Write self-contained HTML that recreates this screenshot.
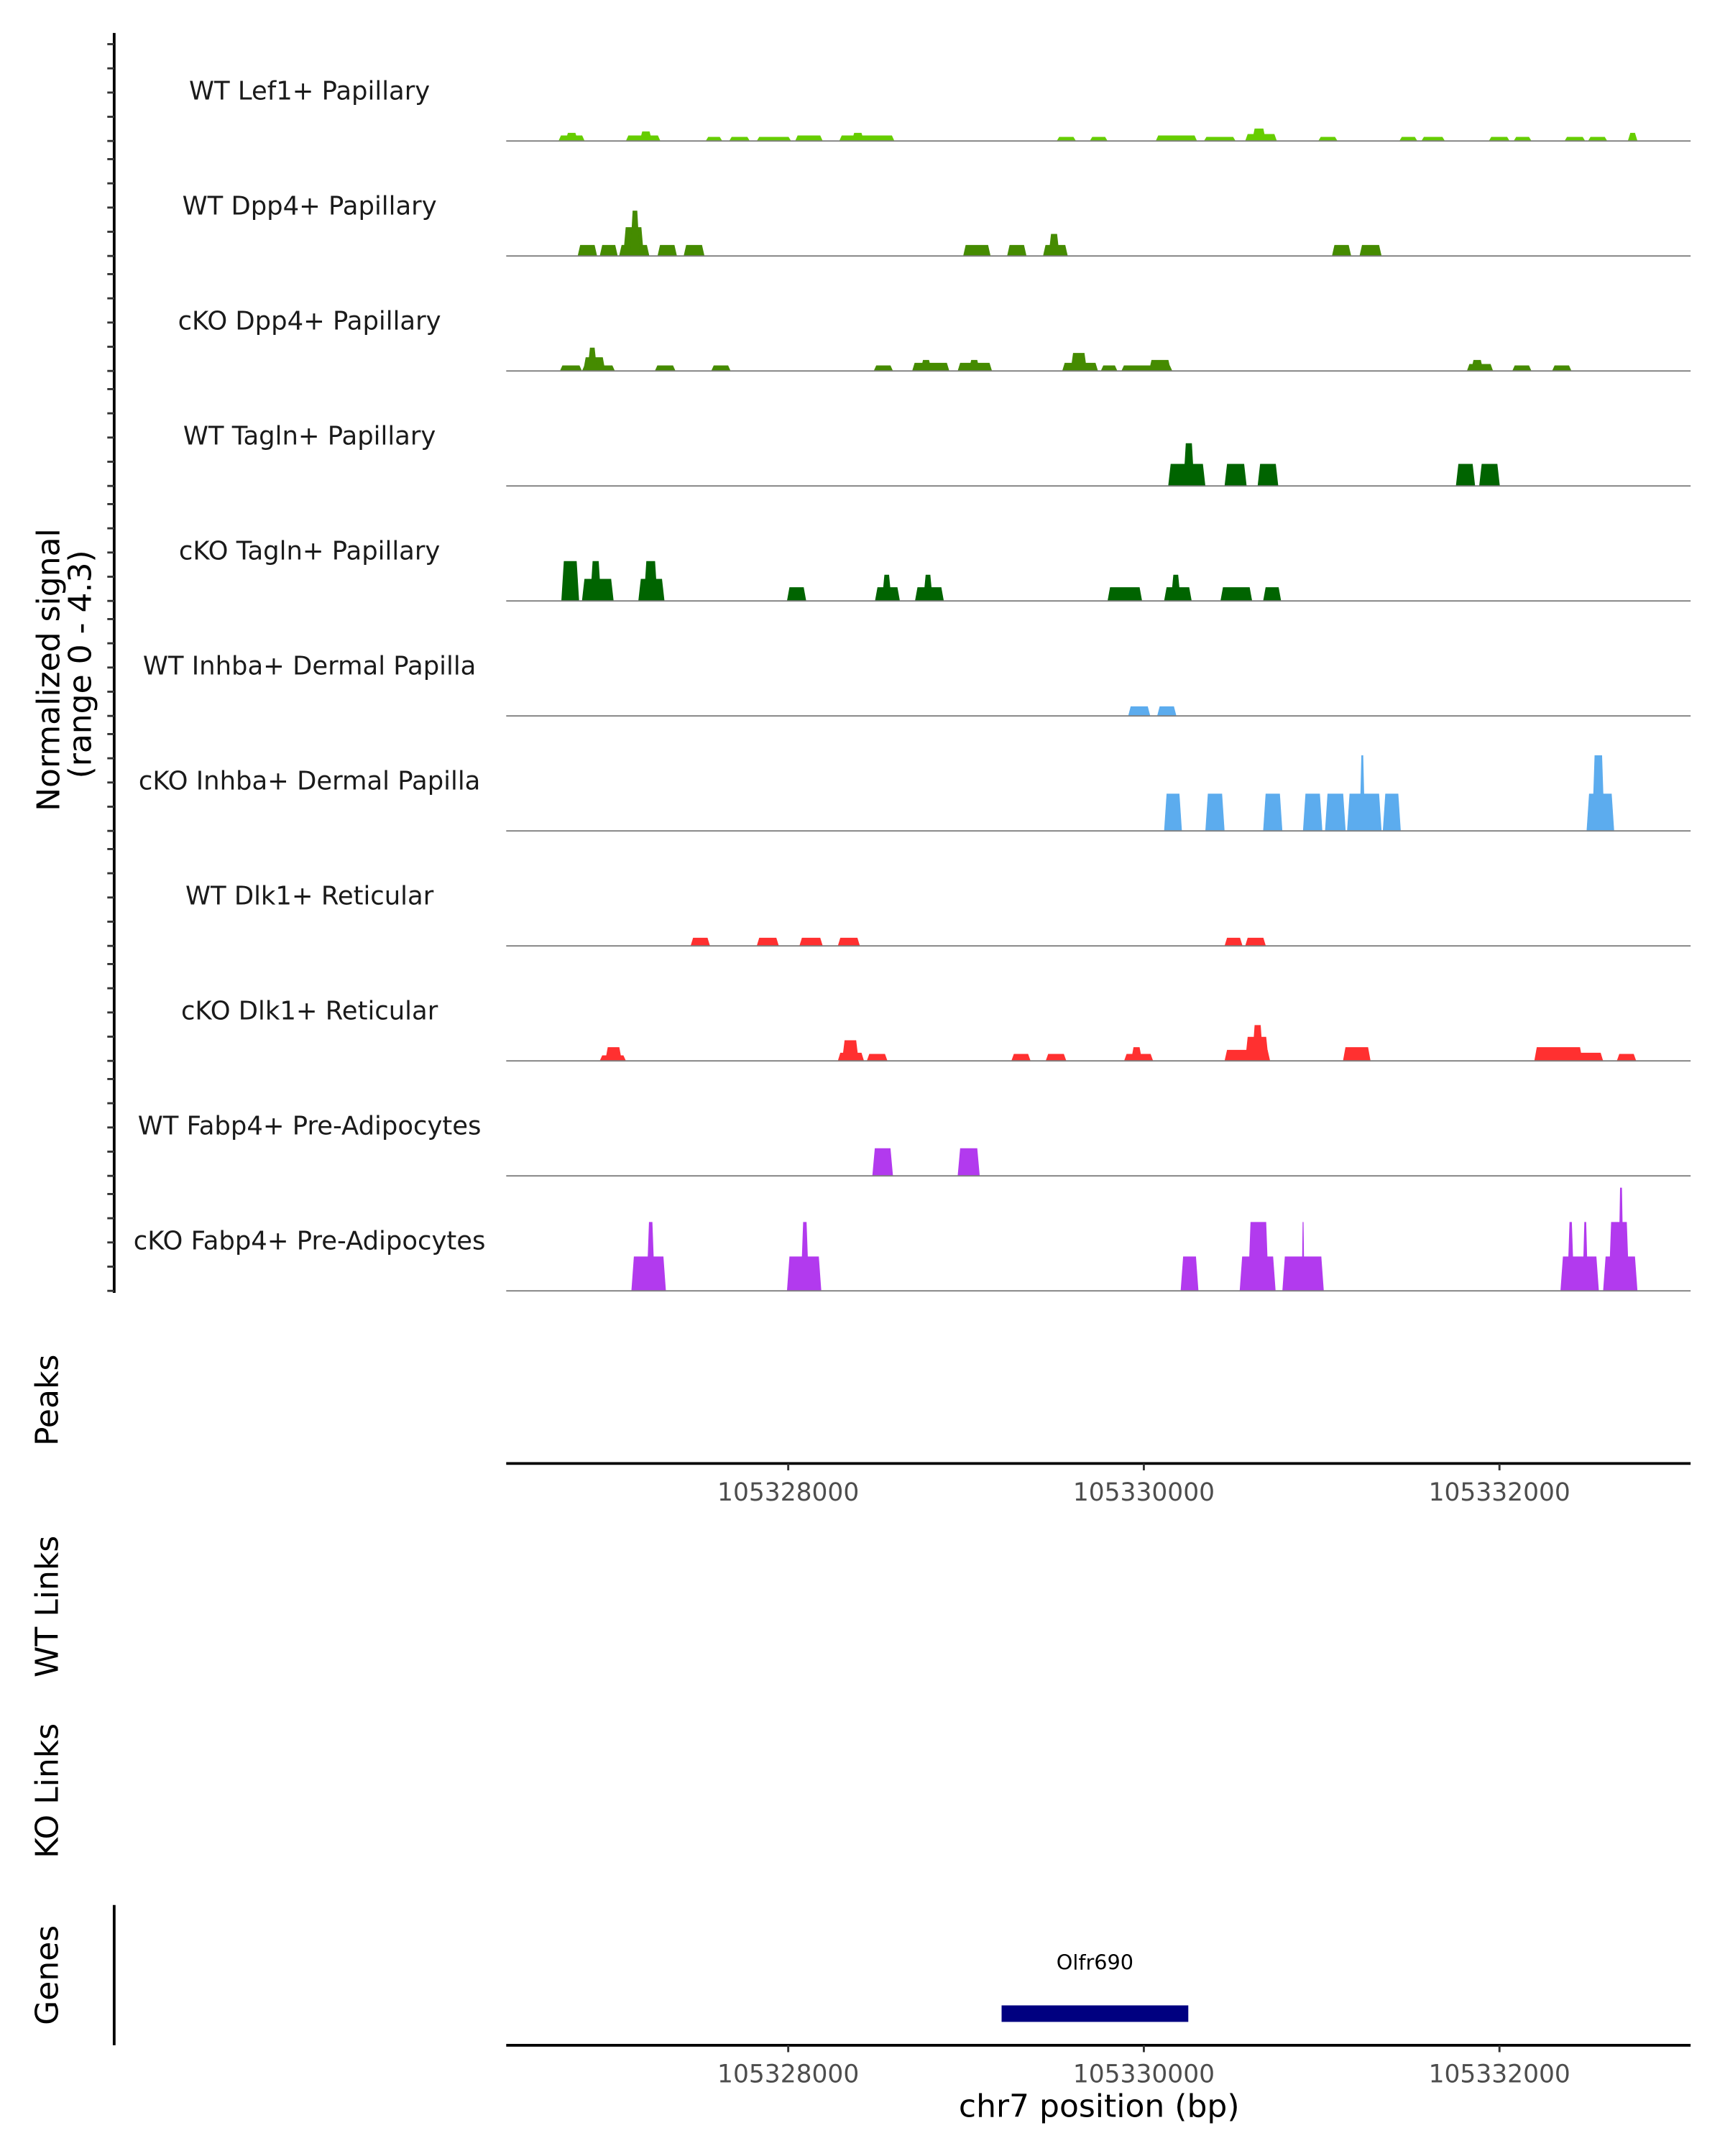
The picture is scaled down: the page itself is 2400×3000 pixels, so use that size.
<!DOCTYPE html>
<html><head><meta charset="utf-8"><style>
html,body{margin:0;padding:0;background:#fff}
svg{display:block}
text{font-family:"DejaVu Sans","Liberation Sans",sans-serif}
</style></head><body>
<svg id="chart" xmlns="http://www.w3.org/2000/svg" width="2400" height="3000" viewBox="0 0 1254 1567.5">
<g id="tracks"></g>
<line x1="83" y1="24" x2="83" y2="940" stroke="#000" stroke-width="2"/>
<g id="yticks"></g>
<text transform="translate(43,487) rotate(-90)" text-anchor="middle" font-size="23">Normalized signal</text>
<text transform="translate(66,483) rotate(-90)" text-anchor="middle" font-size="23">(range 0 - 4.3)</text>
<text transform="translate(42,1018) rotate(-90)" text-anchor="middle" font-size="23">Peaks</text>
<text transform="translate(42,1168) rotate(-90)" text-anchor="middle" font-size="23">WT Links</text>
<text transform="translate(42,1302) rotate(-90)" text-anchor="middle" font-size="23">KO Links</text>
<text transform="translate(42,1436) rotate(-90)" text-anchor="middle" font-size="23">Genes</text>
<line x1="83" y1="1385" x2="83" y2="1487" stroke="#000" stroke-width="2"/>
<g id="xaxes"></g>
<g id="genes"></g>
<text x="799" y="1539" text-anchor="middle" font-size="23">chr7 position (bp)</text>
</svg>
<script>
const NS="http://www.w3.org/2000/svg";
const regionStart=105326414, regionEnd=105333075;
const xTicks=[105328000,105330000,105332000];
const trackNames=["WT Lef1+ Papillary","WT Dpp4+ Papillary","cKO Dpp4+ Papillary","WT Tagln+ Papillary","cKO Tagln+ Papillary","WT Inhba+ Dermal Papilla","cKO Inhba+ Dermal Papilla","WT Dlk1+ Reticular","cKO Dlk1+ Reticular","WT Fabp4+ Pre-Adipocytes","cKO Fabp4+ Pre-Adipocytes"];
const trackColors=["#66CD00","#458B00","#458B00","#006400","#006400","#5CACEE","#5CACEE","#FF3030","#FF3030","#B23AEE","#B23AEE"];
const yMax=4.3;
// segment offsets (bp from regionStart) and signal values
const t1Start=[294,333,673,751,1122,1254,1409,1625,1873,1943,3096,3282,3653,3924,4156,4195,4567,5023,5147,5526,5666,5952,6084,6308];
const t1End=[441,403,867,820,1215,1370,1602,1780,2183,2012,3204,3382,3885,4102,4334,4272,4675,5124,5279,5643,5766,6068,6192,6362];
const t1Val=[0.23,0.34,0.23,0.4,0.17,0.17,0.17,0.23,0.23,0.34,0.17,0.17,0.23,0.17,0.29,0.52,0.17,0.17,0.17,0.17,0.17,0.17,0.17,0.34];
const t2Start=[402,526,635,658,697,851,998,2570,2817,3019,3050,4644,4799];
const t2End=[511,627,805,774,751,960,1115,2724,2926,3158,3112,4752,4923];
const t2Val=[0.46,0.46,0.46,1.2,1.89,0.46,0.46,0.46,0.46,0.46,0.92,0.46,0.46];
const t3Start=[302,426,433,457,836,1153,2067,2283,2330,2539,2601,3127,3174,3344,3460,3615,5403,5426,5658,5882];
const t3End=[426,611,557,511,952,1262,2175,2492,2392,2732,2663,3328,3266,3437,3746,3738,5550,5495,5766,5991];
const t3Val=[0.23,0.23,0.57,0.97,0.23,0.23,0.23,0.34,0.46,0.34,0.46,0.34,0.75,0.23,0.23,0.46,0.29,0.46,0.23,0.23];
const t4Start=[3723,3808,4040,4226,5341,5472];
const t4End=[3932,3870,4164,4342,5449,5588];
const t4Val=[0.92,1.78,0.92,0.92,0.92,0.92];
const t5Start=[310,426,472,743,774,1579,2074,2113,2299,2345,3382,3700,3738,4017,4257];
const t5End=[410,604,534,890,851,1687,2214,2167,2461,2399,3576,3855,3793,4195,4358];
const t5Val=[1.66,0.92,1.66,0.92,1.66,0.57,0.57,1.09,0.57,1.09,0.57,0.57,1.09,0.57,0.57];
const t6Start=[3498,3661];
const t6End=[3622,3769];
const t6Val=[0.4,0.4];
const t7Start=[3700,3932,4257,4481,4605,4729,4799,4930,6076,6107];
const t7End=[3800,4040,4365,4590,4721,4923,4830,5031,6231,6177];
const t7Val=[1.55,1.55,1.55,1.55,1.55,1.55,3.15,1.55,1.55,3.15];
const t8Start=[1037,1409,1649,1865,4040,4156];
const t8End=[1146,1533,1780,1989,4141,4272];
const t8Val=[0.34,0.34,0.34,0.34,0.34,0.34];
const t9Start=[526,557,1865,1889,2028,2841,3034,3475,3514,4040,4156,4195,4706,5782,6014,6246];
const t9End=[673,650,2012,1982,2144,2949,3150,3638,3576,4296,4288,4257,4861,6053,6169,6355];
const t9Val=[0.23,0.57,0.34,0.86,0.29,0.29,0.29,0.29,0.57,0.46,1.0,1.49,0.57,0.57,0.34,0.29];
const t10Start=[2059,2539];
const t10End=[2175,2663];
const t10Val=[1.15,1.15];
const t11Start=[704,789,1579,1656,3793,4125,4172,4365,4474,5929,5967,6053,6169,6200,6254];
const t11End=[898,836,1772,1703,3893,4327,4288,4598,4489,6145,6006,6084,6362,6316,6285];
const t11Val=[1.43,2.87,1.43,2.87,1.43,1.43,2.87,1.43,2.87,1.43,2.87,2.87,1.43,2.87,4.3];
const starts=[t1Start,t2Start,t3Start,t4Start,t5Start,t6Start,t7Start,t8Start,t9Start,t10Start,t11Start];
const ends=[t1End,t2End,t3End,t4End,t5End,t6End,t7End,t8End,t9End,t10End,t11End];
const vals=[t1Val,t2Val,t3Val,t4Val,t5Val,t6Val,t7Val,t8Val,t9Val,t10Val,t11Val];
const geneName="Olfr690", geneStart=105329200, geneEnd=105330250;

const X0=368,X1=1229;
function xs(bp){return X0+(bp-regionStart)/(regionEnd-regionStart)*(X1-X0);}
const firstBase=102.5, trackStep=83.6, trackPx=75;
function ys(v,base){return base-v/yMax*trackPx;}
function mk(tag,attrs,parent){const e=document.createElementNS(NS,tag);for(const k in attrs)e.setAttribute(k,attrs[k]);parent.appendChild(e);return e;}

const gT=document.getElementById('tracks');
const gY=document.getElementById('yticks');
for(let t=0;t<trackNames.length;t++){
  const base=firstBase+t*trackStep;
  const g=mk('g',{},gT);
  
  
  const lab=mk('text',{x:225,y:base-30,'text-anchor':'middle','font-size':18.5,fill:'#1a1a1a'},g);
  lab.textContent=trackNames[t];
  
  
  for(let i=0;i<starts[t].length;i++){
    const a=xs(regionStart+starts[t][i]),b=xs(regionStart+ends[t][i]);
    const y=ys(vals[t][i],base);
    const s=Math.min(1.8,(b-a)/3);
    const p=mk('polygon',{points:`${a},${base} ${a+s},${y} ${b-s},${y} ${b},${base}`,fill:trackColors[t]},g);
    
    
  }
  const bl=mk('line',{x1:X0,x2:X1,y1:base,y2:base,stroke:'#7f7f7f','stroke-width':1},g);
  
  
  for(let k=0;k<5;k++){
    const ty=base-k*17.6;
    const tk=mk('line',{x1:78,x2:83,y1:ty,y2:ty,stroke:'#333','stroke-width':1.5},gY);
    
    
  }
}
const gX=document.getElementById('xaxes');
[1064,1487].forEach((ay,ai)=>{
  const ln=mk('line',{x1:X0,x2:X1,y1:ay,y2:ay,stroke:'#000','stroke-width':2},gX);
  
  
  xTicks.forEach(v=>{
    const x=xs(v);
    const tk=mk('line',{x1:x,x2:x,y1:ay,y2:ay+5,stroke:'#333','stroke-width':1.5},gX);
    
    
    const tl=mk('text',{x:x,y:ay+27,'text-anchor':'middle','font-size':18,fill:'#4d4d4d'},gX);
    tl.textContent=v;
    
    
  });
});
const gG=document.getElementById('genes');
const gb=mk('rect',{x:xs(geneStart),y:1458,width:xs(geneEnd)-xs(geneStart),height:12,fill:'#000080'},gG);


const gl=mk('text',{x:(xs(geneStart)+xs(geneEnd))/2,y:1432,'text-anchor':'middle','font-size':15,fill:'#000'},gG);
gl.textContent=geneName;


</script>
</body></html>
